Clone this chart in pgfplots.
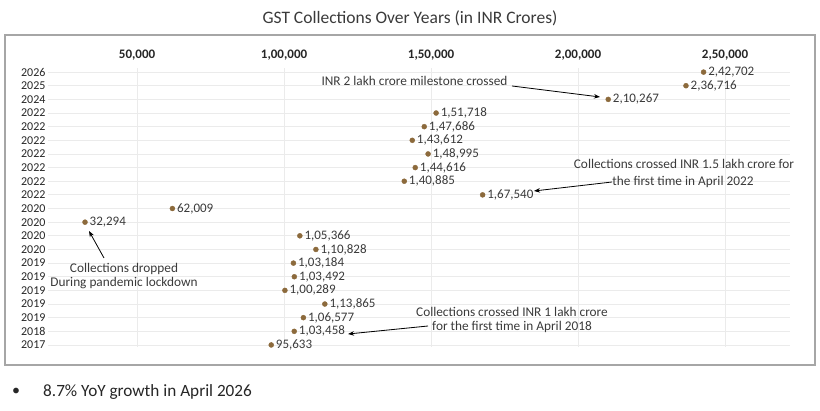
\documentclass[border=0pt]{standalone}
\usepackage{pgfplots}
\pgfplotsset{compat=1.18}
\usepackage{pgfplotstable}
\usepackage{fontspec}
\setmainfont{Carlito}
\usetikzlibrary{arrows.meta}
\definecolor{mk}{HTML}{8C6A3C}
\definecolor{txt}{HTML}{3A3A3A}
\definecolor{dark}{HTML}{262626}
\definecolor{grd}{HTML}{EBEBEB}
\definecolor{frm}{HTML}{A6A6A6}
\pgfplotstableread{
y x label
21 242702 2,42,702
20 236716 2,36,716
19 210267 2,10,267
18 151718 1,51,718
17 147686 1,47,686
16 143612 1,43,612
15 148995 1,48,995
14 144616 1,44,616
13 140885 1,40,885
12 167540 1,67,540
11 62009 62,009
10 32294 32,294
9 105366 1,05,366
8 110828 1,10,828
7 103184 1,03,184
6 103492 1,03,492
5 100289 1,00,289
4 113865 1,13,865
3 106577 1,06,577
2 103458 1,03,458
1 95633 95,633
}\gst
\begin{document}
\begin{tikzpicture}[x=1pt,y=1pt]
\path[use as bounding box] (0,0) rectangle (820,410);
\draw[frm, line width=1.2pt] (5,45) rectangle (815,375);
\node[txt, font=\fontsize{17.5}{20}\selectfont] at (410,392) {GST Collections Over Years (in INR Crores)};
\begin{axis}[
  at={(48pt,63pt)}, anchor=south west,
  scale only axis, width=742pt, height=279pt,
  xmin=19700, xmax=272100, ymin=0.85, ymax=21.3,
  scaled x ticks=false,
  axis line style={draw=none},
  major tick length=0pt,
  xtick={50000,100000,150000,200000,250000},
  xticklabels={{50,000},{1,00,000},{1,50,000},{2,00,000},{2,50,000}},
  xticklabel pos=top,
  xticklabel style={font=\fontsize{13}{15}\selectfont\bfseries, text=dark, yshift=4pt},
  ytick={1,...,21},
  yticklabels={2017,2018,2019,2019,2019,2019,2019,2020,2020,2020,2020,2022,2022,2022,2022,2022,2022,2022,2024,2025,2026},
  yticklabel style={font=\fontsize{12}{14}\selectfont, text=dark, xshift=1pt},
  grid=major, major grid style={grd, line width=0.8pt},
  clip=false,
]
\addplot[only marks, mark=*, mark size=2.5pt, mk,
  nodes near coords, point meta=explicit symbolic,
  every node near coord/.append style={anchor=west, inner sep=1pt, xshift=3.5pt, text=txt, font=\fontsize{13}{15}\selectfont}]
  table[x=x, y=y, meta=label] {\gst};
\end{axis}
\begin{scope}[txt, font=\fontsize{13.3}{15}\selectfont]
\node at (414.5,329) {INR 2 lakh crore milestone crossed};
\node at (684,246) {Collections crossed INR 1.5 lakh crore for};
\node at (683,228) {the first time in April 2022};
\node at (124,141) {Collections dropped};
\node at (124,126.5) {During pandemic lockdown};
\node at (512,98) {Collections crossed INR 1 lakh crore};
\node at (512,83) {for the first time in April 2018};
\end{scope}
\begin{scope}[black, line width=0.8pt, -{Stealth[length=6pt,width=4.5pt]}]
\draw (512,324) -- (600,313);
\draw (612,228) -- (534,219);
\draw (104,152) -- (89,179);
\draw (428,84) -- (348,76);
\end{scope}
\node[dark, font=\fontsize{16}{18}\selectfont] at (16,18) {•};
\node[dark, font=\fontsize{17.2}{19}\selectfont, anchor=west, inner sep=0pt] at (43,18) {8.7\% YoY growth in April 2026};
\end{tikzpicture}
\end{document}
